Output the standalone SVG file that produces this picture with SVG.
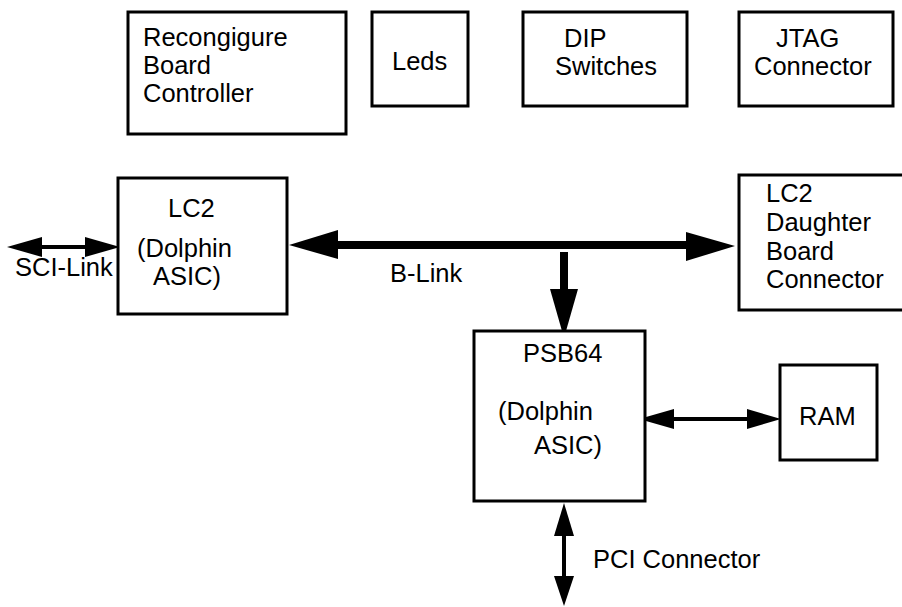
<svg xmlns="http://www.w3.org/2000/svg" width="902" height="607" viewBox="0 0 902 607">
<style>
.box{fill:#fff;stroke:#000;stroke-width:3}
.t{font-family:"Liberation Sans",Arial,sans-serif;font-size:25.5px;fill:#000}
.thin{stroke:#000;stroke-width:4;fill:none}
.thick{stroke:#000;stroke-width:8;fill:none}
.head{fill:#000;stroke:none}
</style>
<rect width="902" height="607" fill="#fff"/>
<g id="connectors">
  <!-- SCI-Link -->
  <line class="thin" x1="40" y1="247" x2="88" y2="247"/>
  <polygon class="head" points="7,247 42,237 42,257"/>
  <polygon class="head" points="120,247 85,237 85,257"/>
  <!-- B-Link -->
  <line class="thick" x1="335" y1="245" x2="690" y2="245"/>
  <polygon class="head" points="289,245 338,230 338,259"/>
  <polygon class="head" points="735,246 686,232 686,261"/>
  <!-- B-Link to PSB64 -->
  <line class="thick" x1="564" y1="252" x2="564" y2="292"/>
  <polygon class="head" points="564,338 550,289 578,289"/>
  <!-- PSB64 to RAM -->
  <line class="thin" x1="670" y1="419" x2="750" y2="419"/>
  <polygon class="head" points="639,419 674,409 674,429"/>
  <polygon class="head" points="781,419 747,409 747,429"/>
  <!-- PCI -->
  <line class="thin" x1="564" y1="533" x2="564" y2="579"/>
  <polygon class="head" points="564,503 554,536 574,536"/>
  <polygon class="head" points="564,606 554,576 574,576"/>
  <text class="t" x="15" y="276">SCI-Link</text>
  <text class="t" x="390" y="282">B-Link</text>
  <text class="t" x="593" y="568">PCI Connector</text>
</g>
<g id="reconfigure">
  <rect class="box" x="128" y="12" width="218" height="122"/>
  <text class="t" x="143" y="46">Recongigure</text>
  <text class="t" x="143" y="74">Board</text>
  <text class="t" x="143" y="102">Controller</text>
</g>
<g id="leds">
  <rect class="box" x="372" y="12" width="96" height="94"/>
  <text class="t" x="392" y="70">Leds</text>
</g>
<g id="dip">
  <rect class="box" x="523" y="12" width="164" height="94"/>
  <text class="t" x="564" y="47">DIP</text>
  <text class="t" x="555" y="75">Switches</text>
</g>
<g id="jtag">
  <rect class="box" x="739" y="12" width="154" height="94"/>
  <text class="t" x="776" y="47">JTAG</text>
  <text class="t" x="754" y="75">Connector</text>
</g>
<g id="lc2">
  <rect class="box" x="118" y="178" width="169" height="136"/>
  <text class="t" x="168" y="217">LC2</text>
  <text class="t" x="137" y="257">(Dolphin</text>
  <text class="t" x="153" y="285">ASIC)</text>
</g>
<g id="daughter">
  <path class="box" d="M905,175 H739 V310 H905"/>
  <text class="t" x="766" y="202">LC2</text>
  <text class="t" x="766" y="231">Daughter</text>
  <text class="t" x="766" y="260">Board</text>
  <text class="t" x="766" y="288">Connector</text>
</g>
<g id="psb64">
  <rect class="box" x="474" y="331" width="171" height="170"/>
  <text class="t" x="523" y="362">PSB64</text>
  <text class="t" x="498" y="420">(Dolphin</text>
  <text class="t" x="534" y="454">ASIC)</text>
</g>
<g id="ram">
  <rect class="box" x="780" y="365" width="97" height="95"/>
  <text class="t" x="799" y="425">RAM</text>
</g>
</svg>
